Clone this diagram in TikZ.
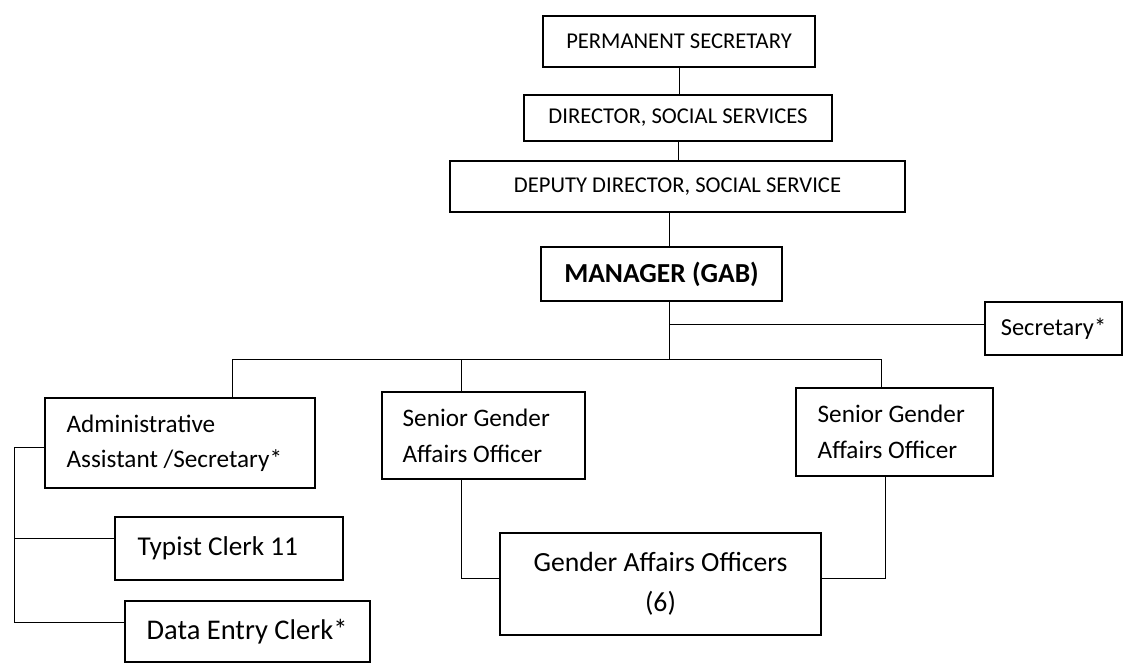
\documentclass[tikz,border=0pt]{standalone}
\usepackage{fontspec}
\setmainfont{Carlito}
\begin{document}
\begin{tikzpicture}[x=1pt,y=-1pt,
  box/.style={draw, line width=1.1pt, inner sep=0pt, align=center},
  caps/.style={font=\fontsize{22.6}{27}\selectfont},
  lefttext/.style args={#1/#2}{label={[anchor=west, xshift=#1, inner sep=0pt, align=left, font=#2]west:}},
  wire/.style={line width=1pt}]
\useasboundingbox (0,0) rectangle (1124,664);
% boxes
\node[box, caps, minimum width=272pt, minimum height=51pt] (ps) at (679,41.5) {PERMANENT SECRETARY};
\node[box, caps, minimum width=308pt, minimum height=46pt] (dir) at (678,118) {DIRECTOR, SOCIAL SERVICES};
\node[box, caps, minimum width=455pt, minimum height=51pt] (dep) at (677.5,186.5) {DEPUTY DIRECTOR, SOCIAL SERVICE};
\node[box, minimum width=241pt, minimum height=54pt, font=\fontsize{27.5}{33}\selectfont\bfseries] (mgr) at (661.5,274) {MANAGER (GAB)};
\node[box, minimum width=137pt, minimum height=53pt, font=\fontsize{24.4}{29}\selectfont] (sec) at (1053.5,328.5) {Secretary*};
\node[box, minimum width=270pt, minimum height=90pt,
  label={[anchor=west, xshift=22pt, inner sep=0pt, align=left, font=\fontsize{25.2}{35}\selectfont]west:Administrative\\Assistant /Secretary*}] (adm) at (180,443) {};
\node[box, minimum width=203pt, minimum height=87pt,
  label={[anchor=west, xshift=21pt, inner sep=0pt, align=left, font=\fontsize{25.2}{36}\selectfont]west:Senior Gender\\Affairs Officer}] (sg1) at (483.5,435.5) {};
\node[box, minimum width=197pt, minimum height=88pt,
  label={[anchor=west, xshift=22pt, inner sep=0pt, align=left, font=\fontsize{25.2}{36}\selectfont]west:Senior Gender\\Affairs Officer}] (sg2) at (894.5,432) {};
\node[box, minimum width=228pt, minimum height=63pt,
  label={[anchor=west, xshift=23pt, inner sep=0pt, font=\fontsize{27.2}{32}\selectfont]west:Typist Clerk 11}] (typ) at (229,548.5) {};
\node[box, minimum width=245pt, minimum height=61pt,
  label={[anchor=west, xshift=22pt, inner sep=0pt, font=\fontsize{28.5}{34}\selectfont]west:Data Entry Clerk*}] (dat) at (247.5,631.5) {};
\node[box, minimum width=321pt, minimum height=102pt, font=\fontsize{27.7}{40}\selectfont] (gao) at (660.5,584) {Gender Affairs Officers\\(6)};
% helper coordinates
\coordinate (bus) at (669,359);
\coordinate (bl) at (232,359);
\coordinate (bm) at (461,359);
\coordinate (br) at (881,359);
\coordinate (secy) at (0,324);
\coordinate (sp) at (14,447);
\coordinate (typy) at (0,538);
\coordinate (daty) at (0,622);
\coordinate (c1) at (461,578);
\coordinate (c2) at (885,578);
% connectors
\draw[wire] (ps.south) -- (ps.south |- dir.north);
\draw[wire] (dir.south) -- (dir.south |- dep.north);
\draw[wire] (dep.south -| bus) -- (mgr.north -| bus);
\draw[wire] (mgr.south -| bus) -- (bus);
\draw[wire] (bus |- secy) -- (sec.west |- secy);
\draw[wire] (bl) -- (br);
\draw[wire] (bl) -- (bl |- adm.north);
\draw[wire] (bm) -- (bm |- sg1.north);
\draw[wire] (br) -- (br |- sg2.north);
\draw[wire] (adm.west |- sp) -- (sp) -- (sp |- daty) -- (dat.west |- daty);
\draw[wire] (sp |- typy) -- (typ.west |- typy);
\draw[wire] (c1 |- sg1.south) -- (c1) -- (c1 -| gao.west);
\draw[wire] (c2 |- sg2.south) -- (c2) -- (c2 -| gao.east);
\end{tikzpicture}
\end{document}
